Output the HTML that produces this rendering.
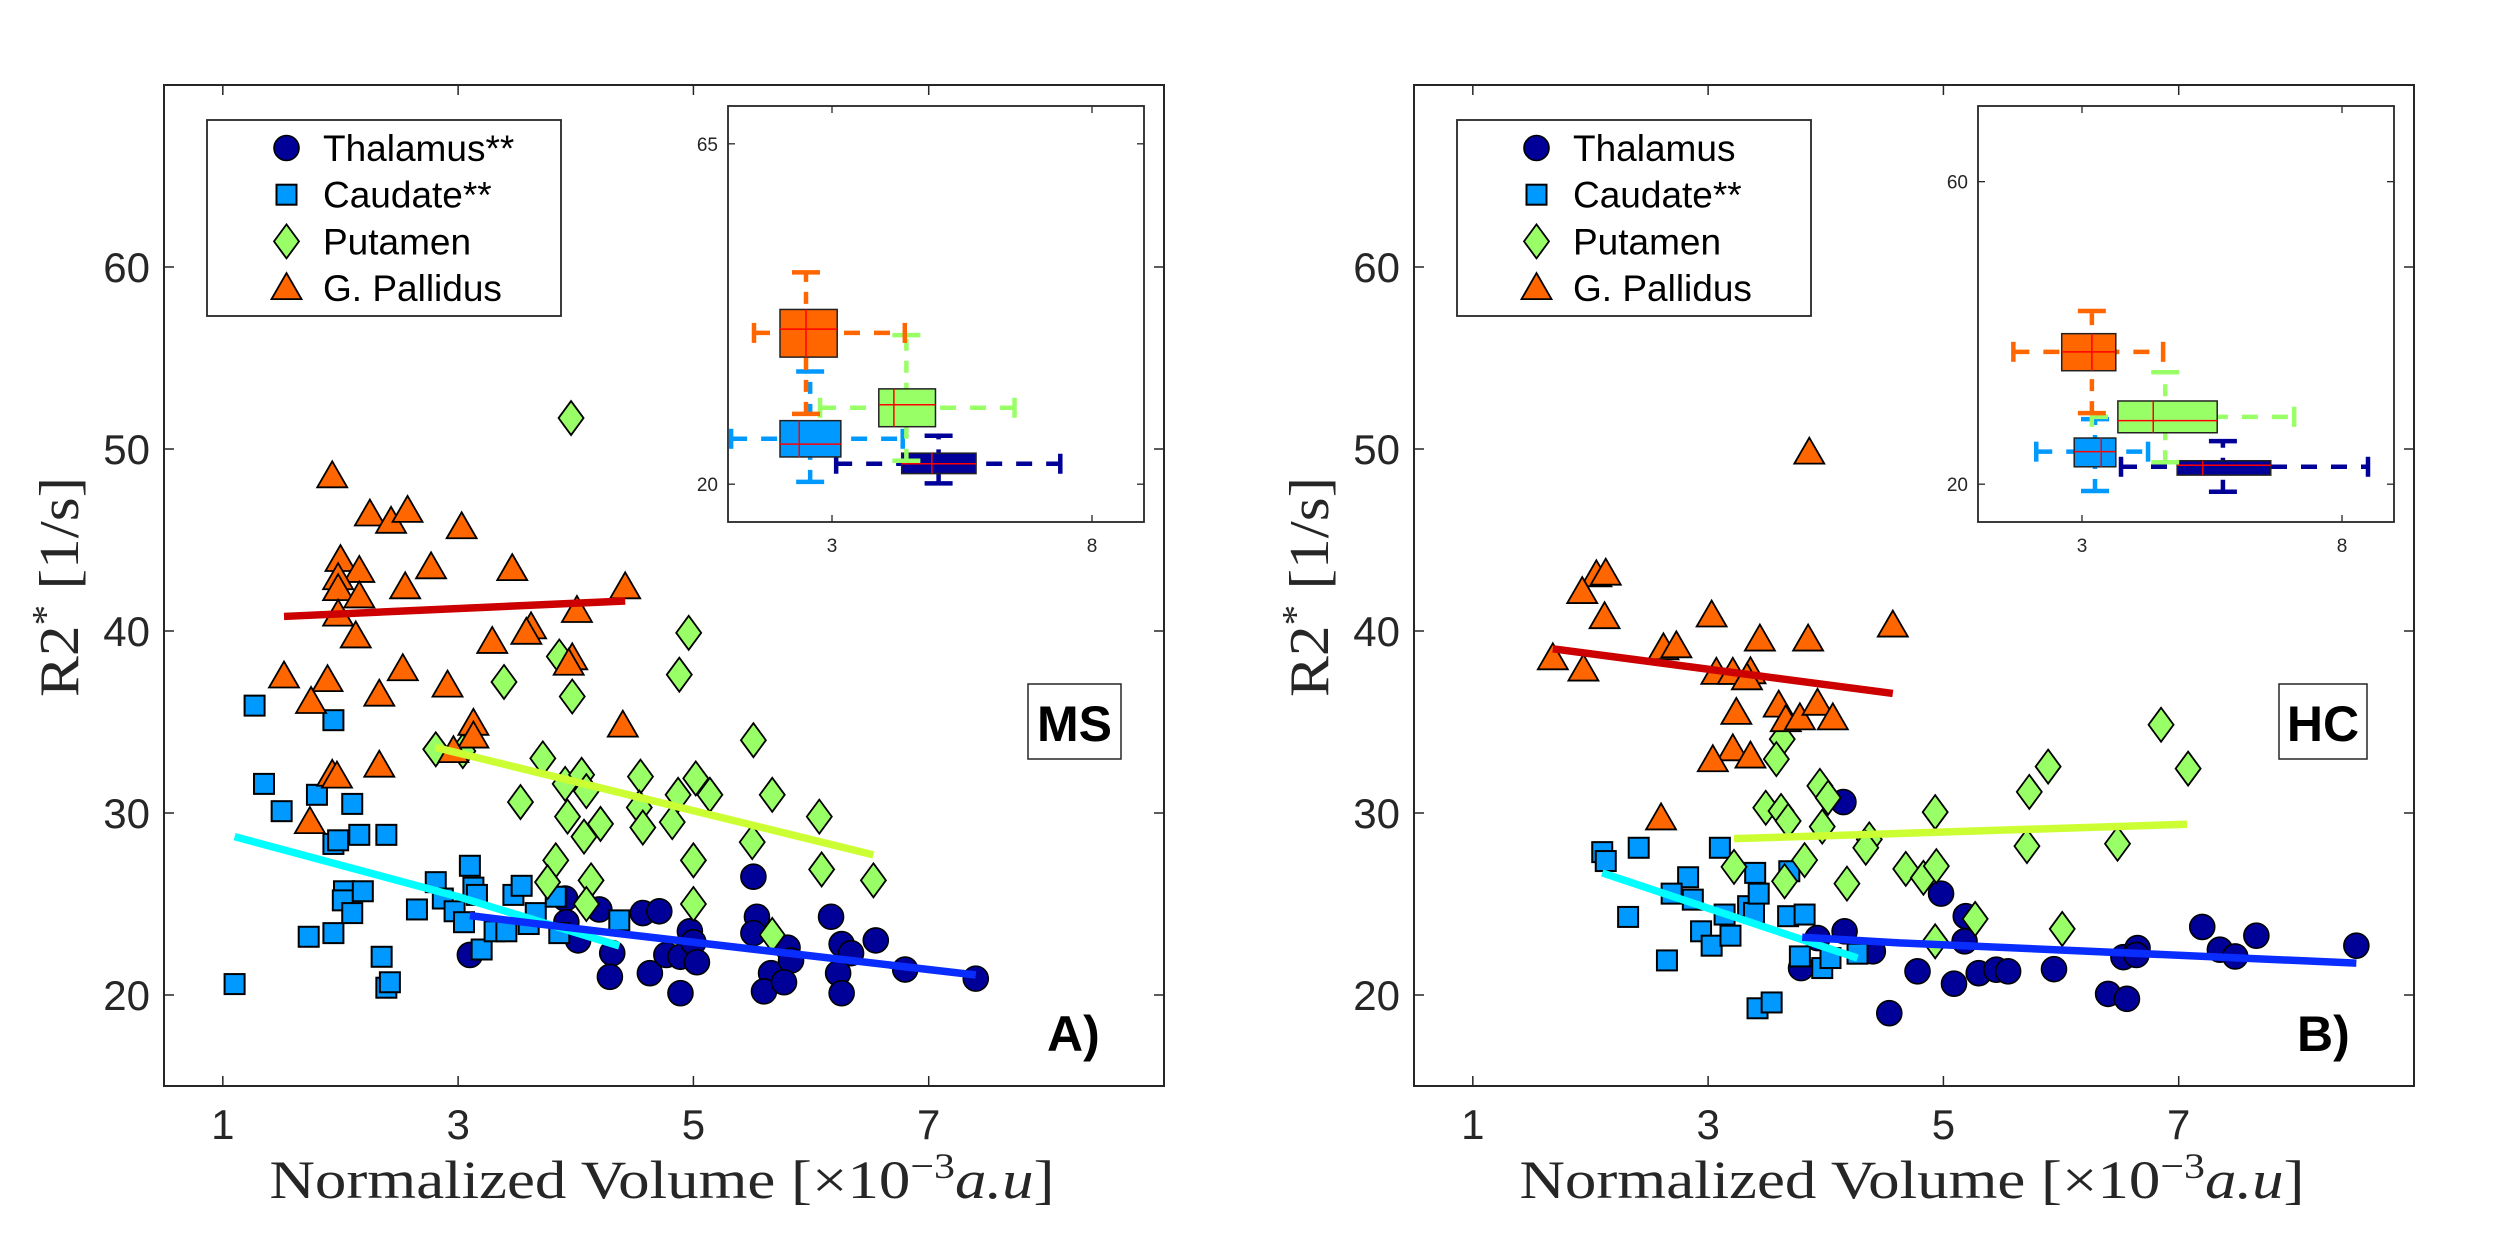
<!DOCTYPE html>
<html><head><meta charset="utf-8"><title>R2* vs Normalized Volume</title>
<style>
html,body{margin:0;padding:0;background:#fff;}
svg{display:block;}
</style></head>
<body>
<svg id="fig" xmlns="http://www.w3.org/2000/svg" width="2500" height="1250" viewBox="0 0 2500 1250"></svg>
<script>
// ===== Panel A (MS) data =====
const thalA_x = [3.10,3.91,3.92,4.02,4.2,4.31,4.29,4.57,4.63,4.71,4.77,4.89,4.89,4.97,5.0,5.03,5.51,5.54,5.51,5.66,5.6,5.8,5.83,5.77,6.17,6.26,6.34,6.23,6.26,6.55,6.8,7.4];
const thalA_y = [22.2,25.3,24.0,23.0,24.7,22.3,21.0,24.5,21.2,24.6,22.2,22.1,20.1,23.5,22.9,21.8,26.5,24.3,23.4,21.2,20.2,22.6,21.9,20.7,24.3,22.8,22.3,21.2,20.1,23.0,21.4,20.9];
const caudA_x = [1.1,1.27,1.35,1.5,1.8,1.94,1.73,1.94,1.94,1.98,2.03,2.02,2.1,2.1,2.16,2.19,2.39,2.35,2.39,2.42,2.65,2.81,2.87,2.97,3.05,3.1,3.13,3.16,3.2,3.31,3.41,3.47,3.54,3.6,3.66,3.86,3.83,4.37];
const caudA_y = [20.6,35.9,31.6,30.1,31.0,35.1,23.2,23.4,28.3,28.5,25.7,25.2,24.5,30.5,28.8,25.7,28.8,22.1,20.4,20.7,24.7,26.2,25.3,24.6,24.0,27.1,25.9,25.5,22.5,23.5,23.5,25.5,26.0,23.9,24.5,23.4,25.4,24.1];
const putA_x = [2.81,3.04,3.53,3.72,3.91,4.05,4.09,3.93,4.21,4.07,3.83,3.76,4.13,4.09,4.55,4.54,4.57,4.82,4.87,5.02,5.14,5.0,5.0,5.51,5.5,5.67,5.67,6.07,6.09,6.53,3.97,3.96,4.96,4.88,3.86,3.39];
const putA_y = [33.5,33.4,30.6,33.0,31.6,32.1,31.2,29.8,29.4,28.7,27.4,26.2,26.3,25.0,32.0,30.3,29.2,29.5,31.0,31.9,31.0,27.4,25.0,34.0,28.4,31.0,23.3,29.8,26.9,26.3,36.4,51.7,39.9,37.6,38.6,37.2];
const palA_x = [1.93,2.25,2.43,2.57,3.03,2.0,2.16,1.98,1.98,2.16,2.77,2.55,3.46,4.42,1.98,2.13,4.01,3.62,3.58,3.29,3.97,3.94,1.52,1.89,2.53,2.91,2.33,1.75,3.13,4.4,3.13,2.96,1.93,1.97,2.33,1.74];
const palA_y = [48.5,46.4,46.0,46.6,45.7,43.9,43.3,42.9,42.3,41.9,43.5,42.4,43.4,42.4,40.9,39.7,41.1,40.2,39.9,39.4,38.5,38.2,37.5,37.3,37.9,37.0,36.5,36.1,34.9,34.8,34.2,33.4,32.1,32.0,32.6,29.5];
// regression fits (x,y endpoints)
const fitA_pal_x = [1.52,4.42], fitA_pal_y = [40.8,41.65];
const fitA_put_x = [2.81,6.53], fitA_put_y = [33.6,27.7];
const fitA_cau_x = [1.1,3.0,4.37], fitA_cau_y = [28.7,25.4,22.7];
const fitA_tha_x = [3.10,4.2,7.4], fitA_tha_y = [24.36,23.5,21.1];

// ===== Panel B (HC) data =====
const thalB_x = [4.15,3.93,4.16,3.79,4.4,4.78,4.54,4.98,5.19,5.18,5.09,5.3,5.45,5.55,5.94,6.4,6.56,6.53,6.65,6.64,7.2,7.35,7.48,7.66,8.51];
const thalB_y = [30.6,23.13,23.5,21.48,22.4,21.3,19.0,25.57,24.33,22.95,20.62,21.2,21.39,21.3,21.42,20.06,19.79,22.08,22.58,22.2,23.74,22.49,22.12,23.26,22.71];
const caudB_x = [2.1,2.13,2.41,3.1,2.83,2.69,2.87,2.32,3.14,3.34,3.39,3.4,3.43,3.68,3.82,3.69,2.94,3.03,3.19,2.65,3.78,3.97,4.04,4.27,3.42,3.54];
const caudB_y = [27.85,27.36,28.09,28.09,26.47,25.57,25.24,24.29,24.42,24.88,24.51,26.71,25.57,24.33,24.42,26.8,23.5,22.71,23.26,21.9,22.12,21.48,22.03,22.27,19.27,19.59];
const putB_x = [3.63,3.58,3.95,4.02,3.49,3.62,3.68,3.97,4.37,4.34,3.22,3.82,3.65,4.18,4.68,4.83,4.93,4.94,4.93,5.27,5.71,5.73,5.89,6.01,6.48,6.85,7.08];
const putB_y = [34.06,32.96,31.49,30.84,30.29,30.11,29.56,29.25,28.55,28.09,27.04,27.41,26.25,26.12,26.93,26.44,30.05,27.08,22.95,24.18,28.18,31.16,32.55,23.63,28.31,34.85,32.44];
const palB_x = [2.05,2.13,1.93,2.12,1.68,1.94,3.03,2.62,2.73,3.44,3.85,4.57,3.07,3.21,3.36,3.33,3.24,3.6,3.66,3.78,3.93,4.06,3.21,3.36,3.04,2.6,3.86];
const palB_y = [43.06,43.15,42.14,40.76,38.5,37.88,40.85,39.05,39.16,39.53,39.53,40.3,37.7,37.7,37.73,37.4,35.5,35.9,35.1,35.2,36.0,35.2,33.5,33.1,32.9,29.7,49.8];
const fitB_pal_x = [1.68,4.57], fitB_pal_y = [39.02,36.57];
const fitB_put_x = [3.22,7.07], fitB_put_y = [28.59,29.38];
const fitB_cau_x = [2.1,4.27], fitB_cau_y = [26.71,22.03];
const fitB_tha_x = [3.8,4.64,8.51], fitB_tha_y = [23.17,22.86,21.75];

// ===== Inset boxplots: [q1x,q3x,q1y,q3y,medx,medy,hwy,hwlo,hwhi,vwx,vwlo,vwhi]
const boxA_tha = [4.34,5.77,21.4,24.1,4.92,22.7,22.7,3.08,7.39,5.05,20.1,26.4];
const boxA_cau = [2.0,3.17,23.6,28.4,2.37,25.3,26.0,1.06,4.36,2.58,20.3,34.9];
const boxA_put = [3.9,4.99,27.6,32.6,4.19,30.5,30.1,2.77,6.51,4.43,23.1,39.7];
const boxA_pal = [2.0,3.1,36.8,43.1,2.5,40.5,40.0,1.5,4.4,2.5,29.3,48.0];
const boxB_tha = [4.83,6.63,21.2,23.1,5.32,22.5,22.3,3.75,8.5,5.71,19.0,25.7];
const boxB_cau = [2.85,3.65,22.3,26.1,3.37,24.3,24.3,2.12,4.27,3.25,19.1,28.6];
const boxB_put = [3.69,5.6,26.8,31.0,4.37,28.4,28.9,3.19,7.08,4.6,22.9,34.8];
const boxB_pal = [2.61,3.65,35.0,39.9,3.19,37.5,37.5,1.68,4.56,3.19,29.4,42.9];

const mainXTicks = [1,3,5,7];
const mainYTicks = [20,30,40,50,60];
const insetXTicks = [3,8];
const insetYTicksA = [20,65];
const insetYTicksB = [20,60];

const NS = "http://www.w3.org/2000/svg";
const svg = document.getElementById('fig');
const COL = {tha:'#000099', cau:'#0099ff', put:'#99ff66', pal:'#ff6600'};
const INK = '#262626';

function mk(tag, attrs, parent){
  const e = document.createElementNS(NS, tag);
  for (const k in attrs) e.setAttribute(k, attrs[k]);
  (parent||svg).appendChild(e);
  return e;
}

function marker(g, kind, cx, cy, name){
  let e;
  if (kind==='tha'){
    e = mk('circle',{cx:cx,cy:cy,r:12.5,fill:COL.tha,stroke:'#000','stroke-width':1.6},g);
  } else if (kind==='cau'){
    e = mk('rect',{x:cx-10,y:cy-10,width:20,height:20,fill:COL.cau,stroke:'#000','stroke-width':2},g);
  } else if (kind==='put'){
    e = mk('polygon',{points:`${cx},${cy-17} ${cx+12.5},${cy} ${cx},${cy+17} ${cx-12.5},${cy}`,fill:COL.put,stroke:'#000','stroke-width':1.8},g);
  } else {
    e = mk('polygon',{points:`${cx},${cy-15} ${cx+15},${cy+11} ${cx-15},${cy+11}`,fill:COL.pal,stroke:'#000','stroke-width':1.8,'stroke-linejoin':'miter'},g);
  }
  
  
  return e;
}

function drawPanel(off, D){
  const L = 164+off, R = 1164+off, T = 85, B = 1086;
  const X = v => L + (v-0.5)*(R-L)/8.5;
  const Y = v => B - (v-15)*(B-T)/55;
  const g = mk('g',{});
  
  
  mk('rect',{x:L,y:T,width:R-L,height:B-T,fill:'#fff',stroke:'none'},g);

  // scatter
  const groups = [['tha',D.tha],['cau',D.cau],['put',D.put],['pal',D.pal]];
  for (const [k,arr] of groups){
    const sg = mk('g',{},g);
    
    
    for (let i=0;i<arr[0].length;i++) marker(sg,k,X(arr[0][i]),Y(arr[1][i]),k+'-point');
  }
  // fits
  const fits = [['pal',D.fpal,'#cc0000'],['put',D.fput,'#ccff33'],['cau',D.fcau,'#00ffff'],['tha',D.ftha,'#0a2dff']];
  for (const [k,f,c] of fits){
    const pts = f[0].map((x,i)=>X(x)+','+Y(f[1][i])).join(' ');
    const pl = mk('polyline',{points:pts,fill:'none',stroke:c,'stroke-width':7.5,'stroke-linejoin':'round'},g);
    
    
  }
  // frame + ticks
  mk('rect',{x:L,y:T,width:R-L,height:B-T,fill:'none',stroke:INK,'stroke-width':2},g);
  for (const t of mainXTicks){
    mk('line',{x1:X(t),x2:X(t),y1:B,y2:B-10,stroke:INK,'stroke-width':1.5},g);
    mk('line',{x1:X(t),x2:X(t),y1:T,y2:T+10,stroke:INK,'stroke-width':1.5},g);
    const tx = mk('text',{x:X(t),y:1139,'text-anchor':'middle','font-family':'Liberation Sans, sans-serif','font-size':42,fill:INK},g);
    tx.textContent = t;
    
    
  }
  for (const t of mainYTicks){
    mk('line',{x1:L,x2:L+10,y1:Y(t),y2:Y(t),stroke:INK,'stroke-width':1.5},g);
    mk('line',{x1:R,x2:R-10,y1:Y(t),y2:Y(t),stroke:INK,'stroke-width':1.5},g);
    const ty = mk('text',{x:L-14,y:Y(t)+15,'text-anchor':'end','font-family':'Liberation Sans, sans-serif','font-size':42,fill:INK},g);
    ty.textContent = t;
    
    
  }
  // axis labels
  const xl = mk('text',{x:662+off,y:1198,'text-anchor':'middle','font-family':'Liberation Serif, serif','font-size':54,fill:INK,textLength:785,lengthAdjust:'spacingAndGlyphs'},svg);
  xl.innerHTML = 'Normalized Volume [×10<tspan dy="-20" font-size="36">−3</tspan><tspan dy="20" font-style="italic">a.u</tspan>]';
  
  
  const yl = mk('text',{x:0,y:0,transform:`translate(${78+off},587) rotate(-90)`,'text-anchor':'middle','font-family':'Liberation Serif, serif','font-size':56,fill:INK,textLength:220,lengthAdjust:'spacingAndGlyphs'},svg);
  yl.innerHTML = 'R2<tspan dy="-20" font-size="38">*</tspan><tspan dy="20"> [1/s]</tspan>';
  
  

  // legend
  const lg = mk('g',{},svg);
  
  
  mk('rect',{x:207+off,y:120,width:354,height:196,fill:'#fff',stroke:INK,'stroke-width':1.8},lg);
  const ent = [['tha',D.names[0]],['cau',D.names[1]],['put',D.names[2]],['pal',D.names[3]]];
  ent.forEach(([k,txt],i)=>{
    const yy = 148 + i*46.7;
    marker(lg,k,286.5+off,yy,'legend-marker');
    const t = mk('text',{x:323+off,y:yy+13,'font-family':'Liberation Sans, sans-serif','font-size':37,fill:'#000'},lg);
    t.textContent = txt;
    
    
  });

  // group box label
  const bl = mk('g',{},svg);
  
  
  mk('rect',{x:D.boxL+off,y:684,width:D.boxW,height:75,fill:'#fff',stroke:INK,'stroke-width':1.5},bl);
  const bt = mk('text',{x:D.boxL+off+D.boxW/2,y:741,'text-anchor':'middle','font-family':'Liberation Sans, sans-serif','font-weight':'bold','font-size':50,fill:'#000'},bl);
  bt.textContent = D.group;
  const pl = mk('text',{x:1047+off,y:1051,'font-family':'Liberation Sans, sans-serif','font-weight':'bold','font-size':50,fill:'#000'},svg);
  pl.textContent = D.panel;
  
  

  // inset
  const iL = 728+off, iR = 1144+off, iT = 106, iB = 522;
  const IX = v => iL + (v-1)*(iR-iL)/8;
  const IY = v => iB - (v-15)*(iB-iT)/55;
  const ig = mk('g',{},svg);
  
  
  mk('rect',{x:iL,y:iT,width:iR-iL,height:iB-iT,fill:'#fff',stroke:INK,'stroke-width':1.8},ig);
  const bx = [['tha',D.bx[0]],['cau',D.bx[1]],['put',D.bx[2]],['pal',D.bx[3]]];
  for (const [k,b] of bx){
    const c = COL[k];
    const bg = mk('g',{},ig);
    
    
    // horizontal whisker
    mk('line',{x1:IX(b[7]),x2:IX(b[8]),y1:IY(b[6]),y2:IY(b[6]),stroke:c,'stroke-width':4.5,'stroke-dasharray':'16 14'},bg);
    mk('line',{x1:IX(b[7]),x2:IX(b[7]),y1:IY(b[6])-10,y2:IY(b[6])+10,stroke:c,'stroke-width':4.5},bg);
    mk('line',{x1:IX(b[8]),x2:IX(b[8]),y1:IY(b[6])-10,y2:IY(b[6])+10,stroke:c,'stroke-width':4.5},bg);
    // vertical whisker
    mk('line',{x1:IX(b[9]),x2:IX(b[9]),y1:IY(b[10]),y2:IY(b[11]),stroke:c,'stroke-width':4.5,'stroke-dasharray':'12 10'},bg);
    mk('line',{x1:IX(b[9])-14,x2:IX(b[9])+14,y1:IY(b[10]),y2:IY(b[10]),stroke:c,'stroke-width':4.5},bg);
    mk('line',{x1:IX(b[9])-14,x2:IX(b[9])+14,y1:IY(b[11]),y2:IY(b[11]),stroke:c,'stroke-width':4.5},bg);
    // box
    mk('rect',{x:IX(b[0]),y:IY(b[3]),width:IX(b[1])-IX(b[0]),height:IY(b[2])-IY(b[3]),fill:c,stroke:'#222','stroke-width':1.5},bg);
    mk('line',{x1:IX(b[0]),x2:IX(b[1]),y1:IY(b[5]),y2:IY(b[5]),stroke:'#ff0000','stroke-width':1.5},bg);
    mk('line',{x1:IX(b[4]),x2:IX(b[4]),y1:IY(b[3]),y2:IY(b[2]),stroke:'#ff0000','stroke-width':1.5},bg);
  }
  for (const t of insetXTicks){
    mk('line',{x1:IX(t),x2:IX(t),y1:iB,y2:iB-7,stroke:INK,'stroke-width':1.3},ig);
    mk('line',{x1:IX(t),x2:IX(t),y1:iT,y2:iT+7,stroke:INK,'stroke-width':1.3},ig);
    const t1 = mk('text',{x:IX(t),y:552,'text-anchor':'middle','font-family':'Liberation Sans, sans-serif','font-size':19,fill:INK},ig);
    t1.textContent = t;
  }
  for (const t of D.iyt){
    mk('line',{x1:iL,x2:iL+7,y1:IY(t),y2:IY(t),stroke:INK,'stroke-width':1.3},ig);
    mk('line',{x1:iR,x2:iR-7,y1:IY(t),y2:IY(t),stroke:INK,'stroke-width':1.3},ig);
    const t2 = mk('text',{x:iL-10,y:IY(t)+7,'text-anchor':'end','font-family':'Liberation Sans, sans-serif','font-size':19,fill:INK},ig);
    t2.textContent = t;
  }
}

drawPanel(0, {id:'panel-a', tha:[thalA_x,thalA_y], cau:[caudA_x,caudA_y], put:[putA_x,putA_y], pal:[palA_x,palA_y],
  fpal:[fitA_pal_x,fitA_pal_y], fput:[fitA_put_x,fitA_put_y], fcau:[fitA_cau_x,fitA_cau_y], ftha:[fitA_tha_x,fitA_tha_y],
  names:['Thalamus**','Caudate**','Putamen','G. Pallidus'], group:'MS', panel:'A)', boxL:1028, boxW:93,
  bx:[boxA_tha,boxA_cau,boxA_put,boxA_pal], iyt:insetYTicksA});
drawPanel(1250, {id:'panel-b', tha:[thalB_x,thalB_y], cau:[caudB_x,caudB_y], put:[putB_x,putB_y], pal:[palB_x,palB_y],
  fpal:[fitB_pal_x,fitB_pal_y], fput:[fitB_put_x,fitB_put_y], fcau:[fitB_cau_x,fitB_cau_y], ftha:[fitB_tha_x,fitB_tha_y],
  names:['Thalamus','Caudate**','Putamen','G. Pallidus'], group:'HC', panel:'B)', boxL:1029, boxW:88,
  bx:[boxB_tha,boxB_cau,boxB_put,boxB_pal], iyt:insetYTicksB});
</script>
</body></html>
